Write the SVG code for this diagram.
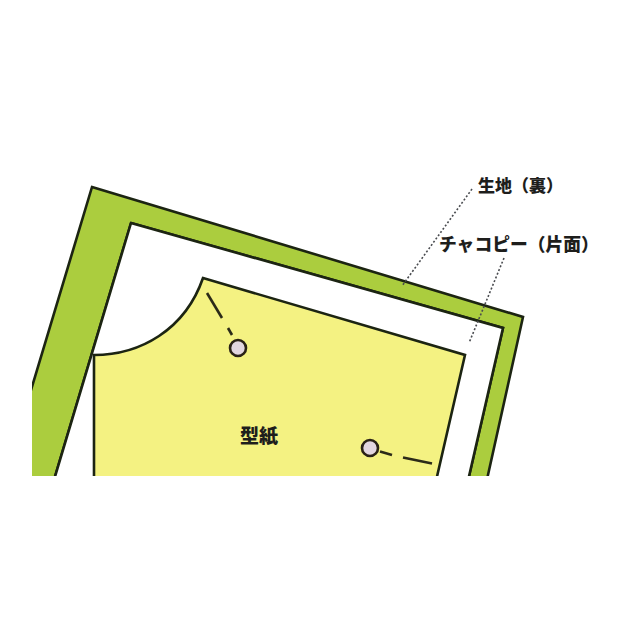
<svg xmlns="http://www.w3.org/2000/svg" width="640" height="640" viewBox="0 0 640 640">
<style>
.outline{stroke:#1c2412;stroke-width:2.6;stroke-linejoin:miter}
.lbl{font-family:"Noto Sans CJK JP","Noto Sans",sans-serif;font-weight:900;fill:#1e1e1c}
.leader{fill:none;stroke:#4a4c50;stroke-width:1.6;stroke-dasharray:2 2}
.shaft{fill:none;stroke:#2b2a18;stroke-width:2.6;stroke-linecap:butt}
.pin{fill:#e2d6df;stroke:#2a2216;stroke-width:2.6}
</style>
<defs>
<clipPath id="clip"><rect x="32" y="0" width="608" height="476"/></clipPath>
</defs>
<rect width="640" height="640" fill="#ffffff"/>
<g clip-path="url(#clip)">
<g id="fabric">
<path class="outline" fill="#abcd3e" fill-rule="evenodd" d="M92,187 L523,317 L478,520 L-8,520 Z M131,223 L503,328 L459,520 L42,520 Z"/>
<path fill="#ffffff" d="M131,223 L503,328 L459,520 L42,520 Z"/>
<path class="outline" fill="none" d="M131,223 L503,328 L459,520 M42,520 L131,223"/>
</g>
<g id="pattern">
<path class="outline" fill="#f4f282" d="M203,278 L465,355 L427,520 L94,520 L94,355 C140,355 185,330 203,278 Z"/>
<text class="lbl" x="240" y="443" font-size="19">型紙</text>
</g>
<g id="pins">
<line class="shaft" x1="207" y1="293" x2="222" y2="318"/>
<line class="shaft" x1="228" y1="328" x2="232" y2="335"/>
<circle class="pin" cx="238" cy="348" r="8"/>
<line class="shaft" x1="380" y1="451.5" x2="392" y2="455"/>
<line class="shaft" x1="403" y1="457.5" x2="432" y2="463.5"/>
<circle class="pin" cx="370" cy="448" r="8"/>
</g>
</g>
<g id="connectors">
<line class="leader" x1="472" y1="189" x2="402" y2="286"/>
<line class="leader" x1="504" y1="258" x2="469" y2="343"/>
</g>
<g id="label-fabric">
<text class="lbl" x="478" y="192" font-size="17">生地（裏）</text>
</g>
<g id="label-chacopy">
<text class="lbl" x="439" y="251" font-size="17.8">チャコピー（片面）</text>
</g>
</svg>
